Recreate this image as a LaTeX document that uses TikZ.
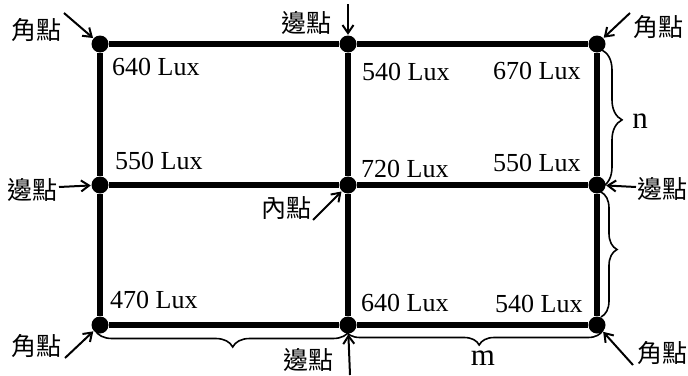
\documentclass[tikz,border=0pt]{standalone}
\usepackage{fontspec}
\setmainfont{Liberation Serif}
\newfontfamily\cjk{Noto Sans CJK TC}
\usetikzlibrary{arrows.meta,decorations.pathreplacing}
\begin{document}
\begin{tikzpicture}[x=1pt,y=-1pt,
  dot/.style={circle,fill=black,inner sep=0pt,minimum size=17pt},
  gridline/.style={line width=5.5pt},
  arr/.style={line width=2pt,-{Straight Barb[length=8pt,width=11pt,line width=2pt]},shorten >=0.5pt},
  lux/.style={anchor=base west,inner sep=0pt,font=\fontsize{26}{26}\selectfont},
  cj/.style={inner sep=0pt,font=\cjk\fontsize{25}{25}\selectfont},
  var/.style={inner sep=0pt,font=\fontsize{31}{31}\selectfont},
  brc/.style={line width=1.6pt,decorate,decoration={brace,amplitude=#1}}]
\path[use as bounding box] (0,0) rectangle (688,375);
% grid points
\node[dot] (d11) at (100,44) {};
\node[dot] (d12) at (348,44) {};
\node[dot] (d13) at (597,44) {};
\node[dot] (d21) at (100,185) {};
\node[dot] (d22) at (348,185) {};
\node[dot] (d23) at (597,185) {};
\node[dot] (d31) at (100,325) {};
\node[dot] (d32) at (348,325) {};
\node[dot] (d33) at (597,325) {};
% grid lines
\draw[gridline] (d11) -- (d12);
\draw[gridline] (d12) -- (d13);
\draw[gridline] (d21) -- (d22);
\draw[gridline] (d22) -- (d23);
\draw[gridline] (d31) -- (d32);
\draw[gridline] (d32) -- (d33);
\draw[gridline] (d11) -- (d21);
\draw[gridline] (d21) -- (d31);
\draw[gridline] (d12) -- (d22);
\draw[gridline] (d22) -- (d32);
\draw[gridline] (d13) -- (d23);
\draw[gridline] (d23) -- (d33);
% lux values
\node[lux] (v11) at (112,75) {640 Lux};
\node[lux] (v12) at (362,80) {540 Lux};
\node[lux] (v13) at (493,79) {670 Lux};
\node[lux] (v21) at (115,169) {550 Lux};
\node[lux] (v22) at (361,177) {720 Lux};
\node[lux] (v23) at (493,171) {550 Lux};
\node[lux] (v31) at (110,308) {470 Lux};
\node[lux] (v32) at (361,311) {640 Lux};
\node[lux] (v33) at (495,312) {540 Lux};
% labels
\node[cj] (l1) at (36,30) {角點};
\node[cj] (l2) at (306,23) {邊點};
\node[cj] (l3) at (658,27) {角點};
\node[cj] (l4) at (32,190) {邊點};
\node[cj] (l5) at (286,208) {內點};
\node[cj] (l6) at (662,189) {邊點};
\node[cj] (l7) at (36,346) {角點};
\node[cj] (l8) at (308,360) {邊點};
\node[cj] (l9) at (662,353) {角點};
% arrow tails
\coordinate (t1) at (64,13);
\coordinate (t2) at (348,4);
\coordinate (t3) at (630,13);
\coordinate (t4) at (59,187);
\coordinate (t5) at (313,220);
\coordinate (t6) at (636,187);
\coordinate (t7) at (65,358);
\coordinate (t8) at (350,375);
\coordinate (t9) at (633,365);
\draw[arr] (t1) -- (d11);
\draw[arr] (t2) -- (d12);
\draw[arr] (t3) -- (d13);
\draw[arr] (t4) -- (d21);
\draw[arr] (t5) -- (d22);
\draw[arr] (t6) -- (d23);
\draw[arr] (t7) -- (d31);
\draw[arr] (t8) -- (d32);
\draw[arr] (t9) -- (d33);
% braces
\coordinate (b1s) at (602,50);
\coordinate (b1e) at (602,187);
\coordinate (b2s) at (601,192);
\coordinate (b2e) at (601,317);
\coordinate (b3s) at (350,330);
\coordinate (b3e) at (95,330);
\coordinate (b4s) at (603,330);
\coordinate (b4e) at (345,330);
\draw[brc=20pt,decoration={aspect=0.51}] (b1s) -- (b1e);
\draw[brc=16pt,decoration={aspect=0.46}] (b2s) -- (b2e);
\draw[brc=17pt,decoration={aspect=0.46}] (b3s) -- (b3e);
\draw[brc=15pt,decoration={aspect=0.48}] (b4s) -- (b4e);
\node[var] (n) at (640,121) {n};
\node[var] (m) at (483,358) {m};
\end{tikzpicture}
\end{document}
